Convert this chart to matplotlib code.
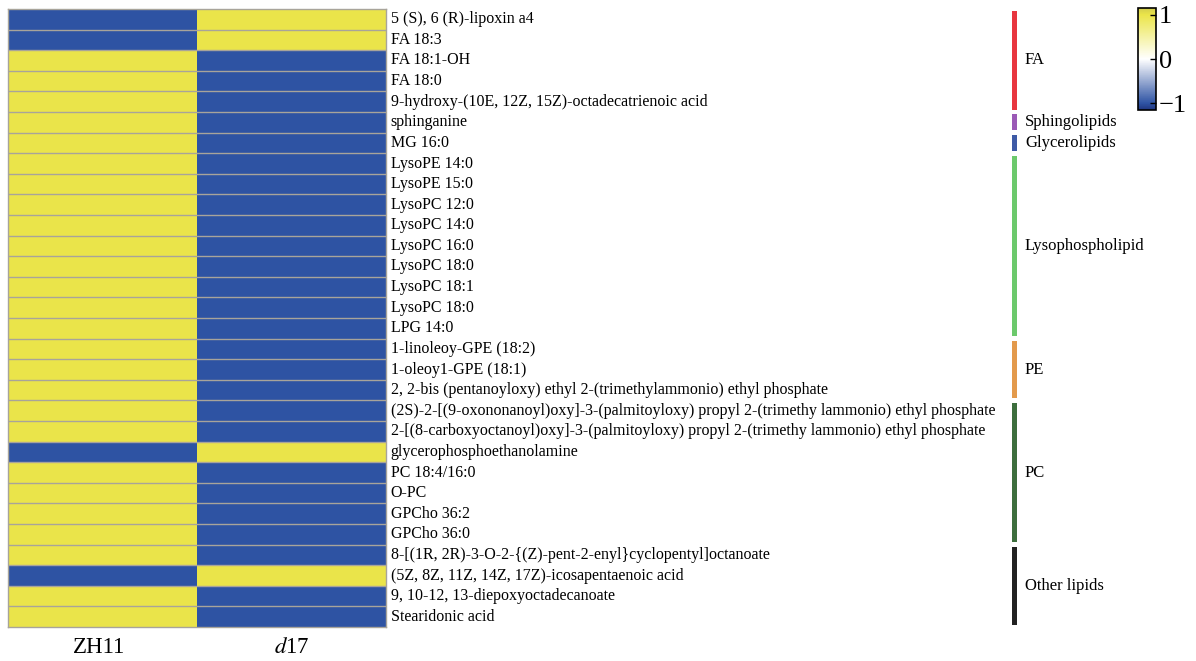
import matplotlib
matplotlib.use("Agg")
import matplotlib.pyplot as plt
import numpy as np
from matplotlib.colors import LinearSegmentedColormap, Normalize

plt.rcParams['font.family'] = ['Liberation Serif', 'DejaVu Serif']

metabolites = [
    "5 (S), 6 (R)-lipoxin a4",
    "FA 18:3",
    "FA 18:1-OH",
    "FA 18:0",
    "9-hydroxy-(10E, 12Z, 15Z)-octadecatrienoic acid",
    "sphinganine",
    "MG 16:0",
    "LysoPE 14:0",
    "LysoPE 15:0",
    "LysoPC 12:0",
    "LysoPC 14:0",
    "LysoPC 16:0",
    "LysoPC 18:0",
    "LysoPC 18:1",
    "LysoPC 18:0",
    "LPG 14:0",
    "1-linoleoy-GPE (18:2)",
    "1-oleoy1-GPE (18:1)",
    "2, 2-bis (pentanoyloxy) ethyl 2-(trimethylammonio) ethyl phosphate",
    "(2S)-2-[(9-oxononanoyl)oxy]-3-(palmitoyloxy) propyl 2-(trimethy lammonio) ethyl phosphate",
    "2-[(8-carboxyoctanoyl)oxy]-3-(palmitoyloxy) propyl 2-(trimethy lammonio) ethyl phosphate",
    "glycerophosphoethanolamine",
    "PC 18:4/16:0",
    "O-PC",
    "GPCho 36:2",
    "GPCho 36:0",
    "8-[(1R, 2R)-3-O-2-{(Z)-pent-2-enyl}cyclopentyl]octanoate",
    "(5Z, 8Z, 11Z, 14Z, 17Z)-icosapentaenoic acid",
    "9, 10-12, 13-diepoxyoctadecanoate",
    "Stearidonic acid",
]

samples = ["ZH11", "d17"]

zh11 = [-1, -1, 1, 1, 1, 1, 1, 1, 1, 1, 1, 1, 1, 1, 1, 1, 1, 1, 1, 1, 1,
        -1, 1, 1, 1, 1, 1, -1, 1, 1]
d17 = [1, 1, -1, -1, -1, -1, -1, -1, -1, -1, -1, -1, -1, -1, -1, -1, -1, -1,
       -1, -1, -1, 1, -1, -1, -1, -1, -1, 1, -1, -1]

group_names = ["FA", "Sphingolipids", "Glycerolipids", "Lysophospholipid",
               "PE", "PC", "Other lipids"]
group_sizes = [5, 1, 1, 9, 3, 7, 4]
group_colors = ["#e8363f", "#9b59b6", "#3e5aa6", "#6cc96c", "#e39a4c",
                "#3d6e3d", "#222222"]

W, H = 1196, 661
fig = plt.figure(figsize=(W / 100, H / 100), dpi=100)


def px_axes(x0, y0, x1, y1):
    return fig.add_axes([x0 / W, 1 - y1 / H, (x1 - x0) / W, (y1 - y0) / H])


vlim = 1.15
f = 1 / vlim
cmap = LinearSegmentedColormap.from_list(
    "by", [(0.0, "#1f3580"), ((1 - f) / 2, "#2f54a4"), (0.5, "#ffffff"),
           ((1 + f) / 2, "#ebe54a"), (1.0, "#d3ce4c")])
norm = Normalize(vmin=-vlim, vmax=vlim)

n = len(metabolites)
data = np.column_stack([zh11, d17]).astype(float)

ax = px_axes(8, 9, 386, 627)
ax.pcolormesh(np.arange(3), np.arange(n + 1), data, cmap=cmap, norm=norm)
ax.hlines(np.arange(1, n), 0, 2, color="#a8a49a", lw=1.0)
ax.set_xlim(0, 2)
ax.set_ylim(n, 0)
ax.set_xticks([])
ax.set_yticks([])
for s in ax.spines.values():
    s.set_color("#a8a49a")
    s.set_linewidth(1.0)

for i, name in enumerate(metabolites):
    ax.text(2.025, i + 0.5, name, ha="left", va="center", fontsize=11.5,
            clip_on=False)

ax.text(0.48, n + 1.0, "ZH11", ha="center", va="center", fontsize=16.5)
ax.text(1.5, n + 1.0, r"$\mathit{d}$17", ha="center", va="center",
        fontsize=16.5, math_fontfamily="stix")

# annotation bars for lipid classes
gax = px_axes(1000, 9, 1130, 627)
gax.set_xlim(0, 130)
gax.set_ylim(n, 0)
gax.axis("off")
start = 0
for name, size, col in zip(group_names, group_sizes, group_colors):
    gax.add_patch(plt.Rectangle((12, start + 0.12), 5, size - 0.24,
                                color=col, lw=0))
    gax.text(25, start + size / 2, name, ha="left", va="center", fontsize=12)
    start += size

# colour bar
cax = px_axes(1138, 8, 1156, 110)
cb = fig.colorbar(plt.cm.ScalarMappable(norm=norm, cmap=cmap), cax=cax)
cb.set_ticks([-1, 0, 1])
cb.set_ticklabels(["\u22121", "0", "1"])
cax.tick_params(direction="in", length=4, width=1, labelsize=19, pad=2)
cb.outline.set_linewidth(1.2)

fig.savefig("out.png", dpi=100)
